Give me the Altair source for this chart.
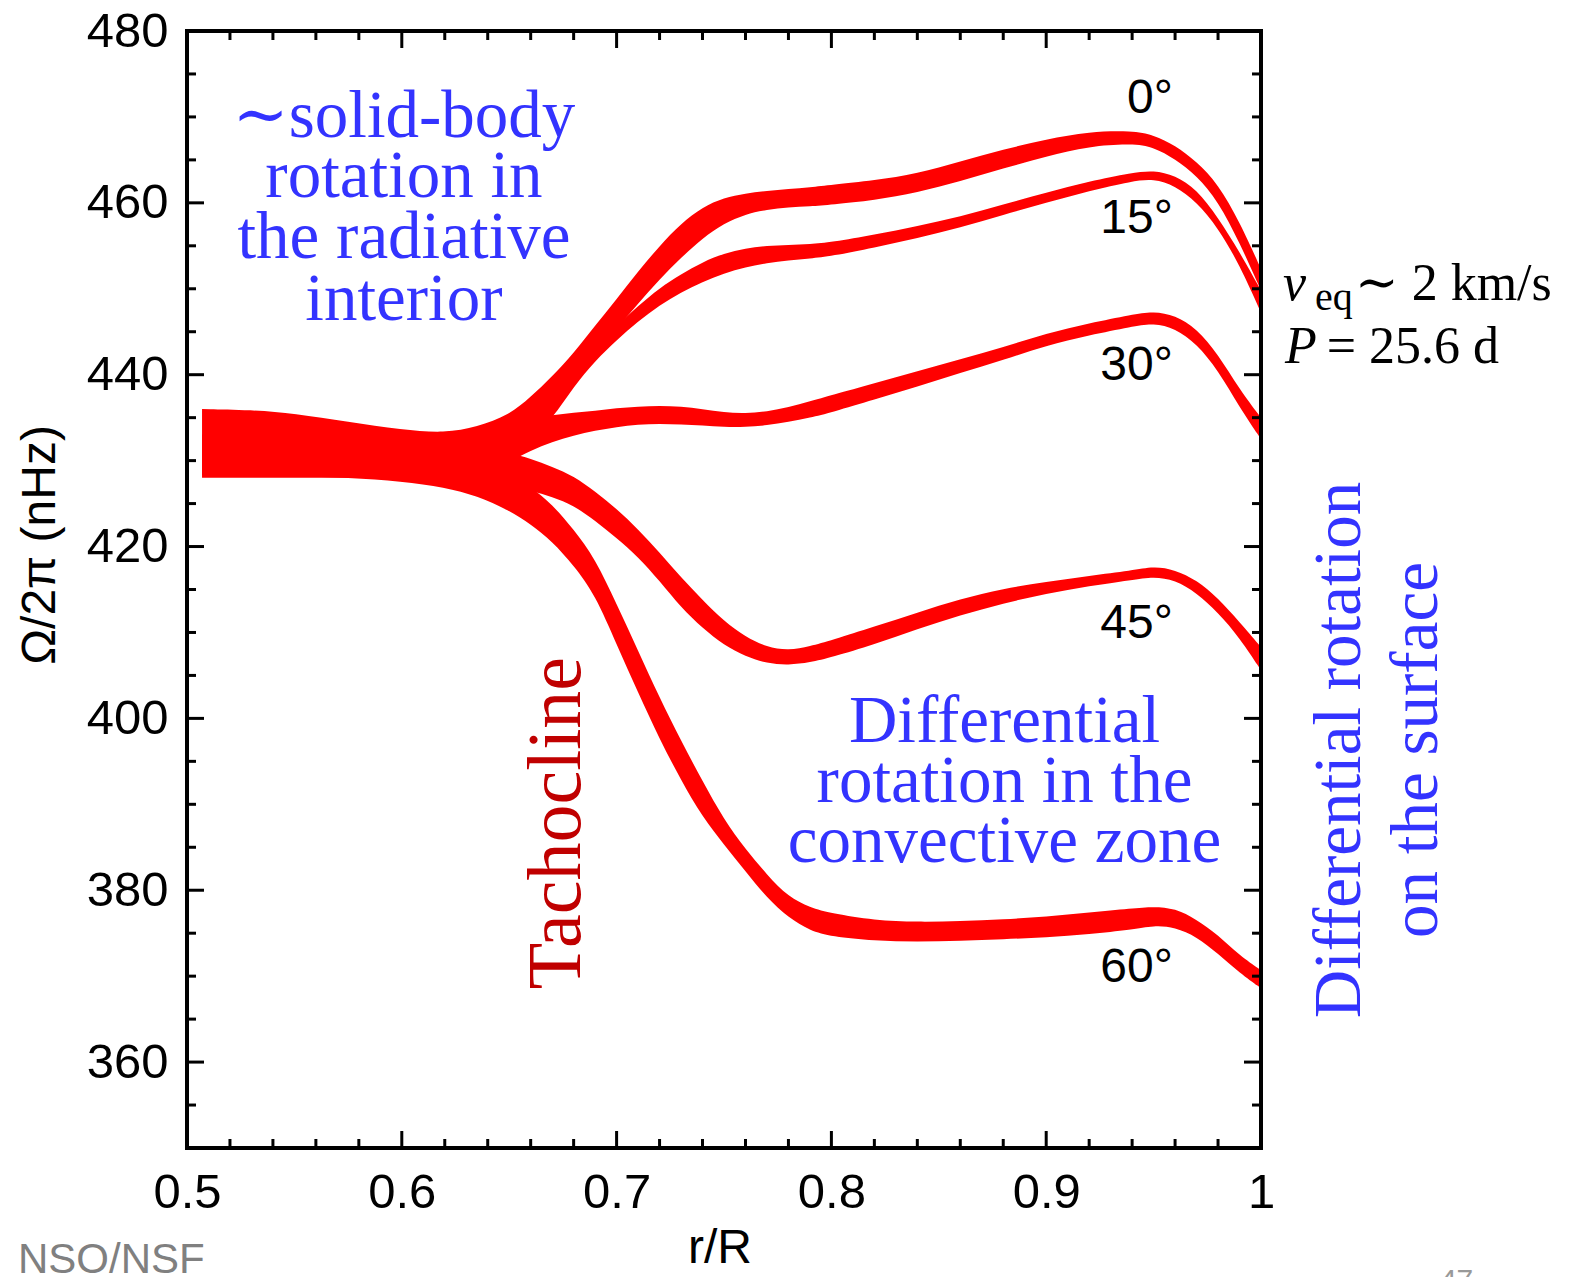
import altair as alt
import pandas as pd

# ---------------- data ----------------
R = [0.507, 0.53, 0.55, 0.575, 0.60, 0.62, 0.635, 0.65, 0.66, 0.67, 0.68, 0.69,
     0.70, 0.71, 0.72, 0.73, 0.74, 0.75, 0.76, 0.77, 0.78, 0.79, 0.80, 0.82,
     0.84, 0.86, 0.88, 0.90, 0.92, 0.94, 0.95, 0.96, 0.97, 0.98, 0.99, 1.0]

HI0 = [436.0, 435.9, 435.5, 434.5, 433.6, 433.2, 433.9, 435.3, 437.4, 439.8, 442.5, 445.7,
       448.8, 452.0, 455.0, 457.6, 459.5, 460.6, 461.1, 461.4, 461.6, 461.8, 462.1, 462.6,
       463.4, 464.8, 466.2, 467.4, 468.3, 468.4, 467.9, 466.7, 464.8, 462.2, 457.8, 452.3]
LO0 = [429.5, 429.5, 429.5, 429.5, 429.5, 429.5, 430.0, 431.0, 432.8, 435.8, 439.5, 442.5,
       445.3, 448.3, 451.1, 453.6, 455.9, 457.6, 458.7, 459.2, 459.5, 459.6, 459.8, 460.3,
       461.2, 462.5, 464.0, 465.4, 466.6, 466.9, 466.5, 465.1, 463.2, 460.2, 455.4, 449.8]

HI15 = [433.0, 433.0, 433.0, 433.0, 433.0, 433.0, 433.5, 434.5, 436.0, 438.0, 440.5, 443.0,
        445.7, 448.0, 450.1, 451.7, 453.1, 454.1, 454.7, 455.0, 455.1, 455.2, 455.4, 456.3,
        457.3, 458.4, 459.8, 461.2, 462.5, 463.5, 463.8, 463.2, 461.6, 458.3, 454.3, 449.8]
LO15 = [429.0, 429.0, 429.0, 429.0, 429.0, 429.0, 429.8, 430.8, 432.6, 434.8, 438.6, 441.6,
        444.0, 446.2, 448.1, 449.6, 450.8, 451.8, 452.5, 453.0, 453.3, 453.5, 453.8, 454.8,
        455.9, 457.1, 458.6, 460.0, 461.4, 462.5, 462.8, 462.0, 460.1, 457.1, 452.8, 447.2]

HI30 = [433.0, 433.0, 433.0, 433.0, 433.0, 433.0, 433.3, 434.0, 434.8, 435.3, 435.6, 435.8,
        436.1, 436.3, 436.4, 436.3, 436.0, 435.6, 435.5, 435.7, 436.2, 436.9, 437.6, 439.0,
        440.4, 441.8, 443.2, 444.8, 446.0, 447.0, 447.4, 446.9, 445.4, 442.4, 438.3, 435.0]
LO30 = [428.5, 428.5, 428.5, 428.5, 428.5, 428.5, 428.8, 429.8, 431.2, 432.2, 432.9, 433.5,
        433.9, 434.2, 434.3, 434.2, 434.1, 433.9, 433.9, 434.1, 434.5, 435.0, 435.6, 437.1,
        438.6, 440.2, 441.7, 443.4, 444.6, 445.6, 446.0, 445.4, 443.6, 440.5, 436.2, 432.5]

HI45 = [432.5, 432.5, 432.5, 432.5, 432.5, 432.5, 431.8, 431.0, 430.2, 429.3, 428.2, 426.4,
        424.4, 422.0, 419.3, 416.4, 413.8, 411.3, 409.5, 408.3, 407.9, 408.4, 409.1, 410.7,
        412.3, 413.9, 415.1, 415.9, 416.6, 417.2, 417.7, 417.3, 416.1, 414.0, 411.2, 408.3]
LO45 = [428.0, 428.0, 428.0, 428.0, 428.0, 428.0, 427.6, 427.0, 426.5, 425.8, 424.8, 423.0,
        421.0, 418.8, 416.0, 412.9, 410.5, 408.5, 407.2, 406.4, 406.2, 406.5, 407.1, 408.6,
        410.4, 412.0, 413.4, 414.5, 415.4, 416.1, 416.5, 416.1, 414.6, 412.3, 409.4, 405.6]

HI60 = [431.0, 431.0, 431.0, 431.0, 431.0, 431.0, 429.5, 428.0, 427.0, 424.9, 422.0, 418.6,
        413.3, 407.9, 402.4, 397.4, 392.7, 388.2, 384.8, 381.8, 379.2, 378.0, 377.3, 376.5,
        376.3, 376.4, 376.6, 376.9, 377.4, 377.9, 378.1, 377.9, 376.6, 374.8, 372.4, 370.7]
LO60 = [428.3, 428.3, 428.2, 428.0, 427.6, 426.9, 425.9, 424.2, 422.6, 420.6, 417.8, 414.4,
        408.6, 403.0, 397.6, 392.8, 388.5, 385.3, 382.2, 379.1, 376.8, 375.3, 374.6, 374.1,
        374.0, 374.1, 374.3, 374.5, 374.9, 375.4, 375.9, 375.7, 374.6, 372.6, 370.4, 368.6]

LATS = ["0°", "15°", "30°", "45°", "60°"]
LOWS = [LO0, LO15, LO30, LO45, LO60]
HIGHS = [HI0, HI15, HI30, HI45, HI60]

X_MAJOR = [0.5, 0.6, 0.7, 0.8, 0.9, 1.0]
X_MINOR = [0.52, 0.54, 0.56, 0.58, 0.62, 0.64, 0.66, 0.68, 0.72, 0.74, 0.76, 0.78,
           0.82, 0.84, 0.86, 0.88, 0.92, 0.94, 0.96, 0.98]
Y_MAJOR = [360, 380, 400, 420, 440, 460, 480]
Y_MINOR = [355, 365, 370, 375, 385, 390, 395, 405, 410, 415, 425, 430, 435,
           445, 450, 455, 465, 470, 475]

# latitude labels (right-aligned, baseline position in data units)
LAT_LABEL_R = [0.959, 0.959, 0.959, 0.959, 0.959]
LAT_LABEL_OM = [470.46, 456.49, 439.38, 409.35, 369.32]

# blue annotations
BLUE_TEXT = ["∼solid-body", "rotation in", "the radiative", "interior",
             "Differential", "rotation in the", "convective zone"]
BLUE_R = [0.601, 0.601, 0.601, 0.601, 0.8806, 0.8806, 0.8806]
BLUE_OM = [467.66, 460.68, 453.58, 446.36, 397.25, 390.27, 383.28]

SURF_TEXT = ["Differential rotation", "on the surface"]
SURF_R = [1.0461, 1.0819]
SURF_OM = [396.32, 396.32]

# ---------------- tables ----------------
rows = []
for lat, lo, hi in zip(LATS, LOWS, HIGHS):
    for r, a, b in zip(R, lo, hi):
        rows.append({"lat": lat, "r": r, "lo": a, "hi": b})
bands = pd.DataFrame(rows)

W, H = 1074, 1117
SANS = "Liberation Sans"
SERIF = "Liberation Serif, DejaVu Serif"

xs = alt.Scale(domain=[0.5, 1.0], nice=False, zero=False)
ys = alt.Scale(domain=[350, 480], nice=False, zero=False)
xaxis = alt.Axis(values=X_MAJOR, format=".1~f", title=None, ticks=False, tickSize=0,
                 domain=False, grid=False, labelFont=SANS, labelFontSize=49,
                 labelColor="black", labelPadding=20, labelFlush=False, labelOverlap=False)
yaxis = alt.Axis(values=Y_MAJOR, title=None, ticks=False, tickSize=0, domain=False,
                 grid=False, labelFont=SANS, labelFontSize=49, labelColor="black",
                 labelPadding=19, labelFlush=False, labelOverlap=False)


def X(field="r"):
    return alt.X(f"{field}:Q", scale=xs, axis=xaxis)


def Y(field):
    return alt.Y(f"{field}:Q", scale=ys, axis=yaxis)


band_layer = alt.Chart(bands).mark_area(
    color="#ff0000", interpolate="basis", opacity=1
).encode(x=X(), y=alt.Y("lo:Q", scale=ys, axis=yaxis, stack=None), y2="hi:Q",
         detail="lat:N")

xmaj = pd.DataFrame({"r": X_MAJOR})
xmin = pd.DataFrame({"r": X_MINOR})
ymaj = pd.DataFrame({"om": Y_MAJOR})
ymin = pd.DataFrame({"om": Y_MINOR})

tick_style = dict(color="black", strokeWidth=3)
ticks = [
    alt.Chart(xmaj).mark_rule(**tick_style).encode(x=X(), y=alt.value(H), y2=alt.value(H - 17)),
    alt.Chart(xmin).mark_rule(**tick_style).encode(x=X(), y=alt.value(H), y2=alt.value(H - 9)),
    alt.Chart(xmaj).mark_rule(**tick_style).encode(x=X(), y=alt.value(0), y2=alt.value(17)),
    alt.Chart(xmin).mark_rule(**tick_style).encode(x=X(), y=alt.value(0), y2=alt.value(9)),
    alt.Chart(ymaj).mark_rule(**tick_style).encode(y=Y("om"), x=alt.value(0), x2=alt.value(17)),
    alt.Chart(ymin).mark_rule(**tick_style).encode(y=Y("om"), x=alt.value(0), x2=alt.value(9)),
    alt.Chart(ymaj).mark_rule(**tick_style).encode(y=Y("om"), x=alt.value(W), x2=alt.value(W - 17)),
    alt.Chart(ymin).mark_rule(**tick_style).encode(y=Y("om"), x=alt.value(W), x2=alt.value(W - 9)),
]

frame = alt.Chart(pd.DataFrame({"k": [0]})).mark_rect(
    fillOpacity=0, stroke="black", strokeWidth=4
).encode(x=alt.value(0), x2=alt.value(W), y=alt.value(0), y2=alt.value(H))

lat_df = pd.DataFrame({"t": LATS, "r": LAT_LABEL_R, "om": LAT_LABEL_OM})
lat_text = alt.Chart(lat_df).mark_text(
    font=SANS, fontSize=48, align="right", baseline="alphabetic", color="black"
).encode(x=X(), y=Y("om"), text="t:N")

blue_df = pd.DataFrame({"t": BLUE_TEXT, "r": BLUE_R, "om": BLUE_OM})
blue_text = alt.Chart(blue_df).mark_text(
    font=SERIF, fontSize=67, align="center", baseline="alphabetic", color="#3333ff"
).encode(x=X(), y=Y("om"), text="t:N")

surf_df = pd.DataFrame({"t": SURF_TEXT, "r": SURF_R, "om": SURF_OM})
surf_text = alt.Chart(surf_df).mark_text(
    font=SERIF, fontSize=67, align="center", baseline="alphabetic", angle=270, color="#3333ff"
).encode(x=X(), y=Y("om"), text="t:N")

tacho = alt.Chart(pd.DataFrame({"t": ["Tachocline"], "r": [0.683], "om": [387.82]})).mark_text(
    font=SERIF, fontSize=76, align="center", baseline="alphabetic", angle=270, color="#c00000"
).encode(x=X(), y=Y("om"), text="t:N")

ytitle = alt.Chart(pd.DataFrame({"t": ["Ω/2π (nHz)"], "r": [0.4386], "om": [420.18]})).mark_text(
    font=SANS, fontSize=48, align="center", baseline="alphabetic", angle=270, color="black"
).encode(x=X(), y=Y("om"), text="t:N")

xtitle = alt.Chart(pd.DataFrame({"t": ["r/R"], "r": [0.7481], "om": [336.61]})).mark_text(
    font=SANS, fontSize=48, align="center", baseline="alphabetic", color="black"
).encode(x=X(), y=Y("om"), text="t:N")

credit = alt.Chart(pd.DataFrame({"t": ["NSO/NSF"], "r": [0.4213], "om": [335.45]})).mark_text(
    font=SANS, fontSize=42, align="left", baseline="alphabetic", color="#808080"
).encode(x=X(), y=Y("om"), text="t:N")

pageno = alt.Chart(pd.DataFrame({"t": ["47"], "r": [1.0833], "om": [333.47]})).mark_text(
    font=SANS, fontSize=30, align="left", baseline="alphabetic", color="#999999"
).encode(x=X(), y=Y("om"), text="t:N")

# v_eq ~ 2 km/s  and  P = 25.6 d
math_it = pd.DataFrame({"t": ["v", "P"], "r": [1.0102, 1.0112], "om": [448.69, 441.36]})
math_it_text = alt.Chart(math_it).mark_text(
    font=SERIF, fontSize=52, fontStyle="italic", align="left", baseline="alphabetic", color="black"
).encode(x=X(), y=Y("om"), text="t:N")

math_sub = alt.Chart(pd.DataFrame({"t": ["eq"], "r": [1.0251], "om": [447.53]})).mark_text(
    font=SERIF, fontSize=40, align="left", baseline="alphabetic", color="black"
).encode(x=X(), y=Y("om"), text="t:N")

math_rm = pd.DataFrame({"t": ["∼ 2 km/s", "= 25.6 d"], "r": [1.0438, 1.0306],
                        "om": [448.69, 441.36]})
math_rm_text = alt.Chart(math_rm).mark_text(
    font=SERIF, fontSize=52, align="left", baseline="alphabetic", color="black"
).encode(x=X(), y=Y("om"), text="t:N")

chart = alt.layer(
    band_layer, *ticks, frame, lat_text, blue_text, surf_text, tacho,
    ytitle, xtitle, credit, pageno, math_it_text, math_sub, math_rm_text
).properties(
    width=W, height=H,
    padding={"left": 187, "top": 31, "right": 309, "bottom": 129},
    autosize=alt.AutoSizeParams(type="none"),
    background="white",
).configure_view(stroke=None)

chart.save("out.html", embed_options={"renderer": "svg", "actions": False})
